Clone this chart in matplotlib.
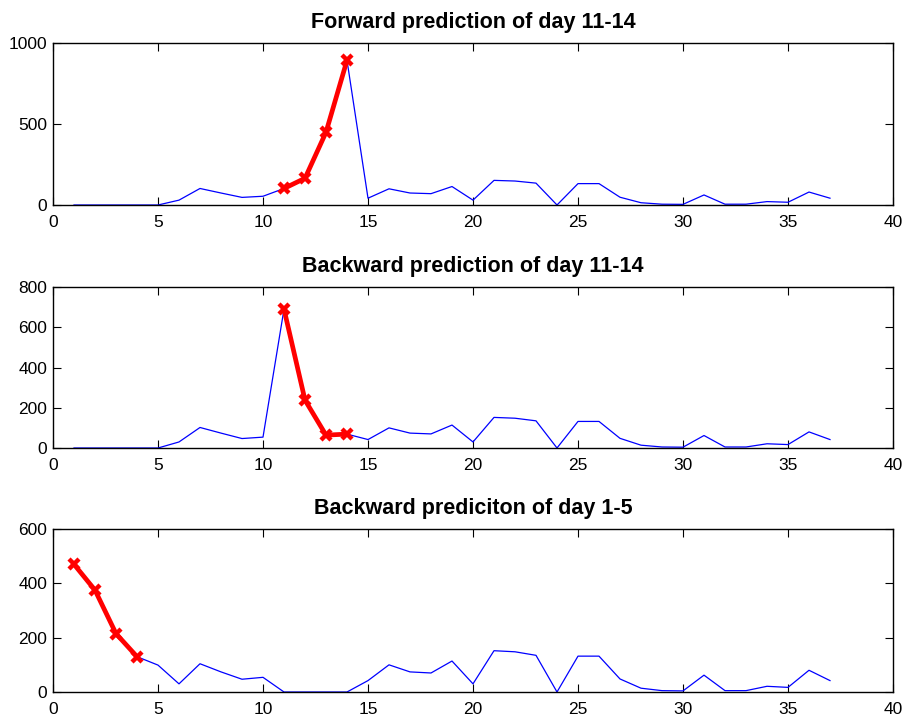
import matplotlib
matplotlib.use("Agg")
import matplotlib.pyplot as plt
import numpy as np

plt.rcParams['font.family'] = ['Liberation Sans', 'DejaVu Sans']

days = list(range(1, 38))
# observed series for days 15-37 (shared by all panels)
tail = [42, 100, 74, 70, 114, 30, 152, 148, 135, 0, 132, 132, 48, 14, 5, 4, 62, 5, 5, 21, 17, 80, 42]
mid = [0, 0, 0, 0, 0, 30, 102, 74, 47, 54]   # days 1-10 in panels 1-2

fwd_days = [11, 12, 13, 14]
fwd_vals = [102, 165, 449, 893]
bwd_days = [11, 12, 13, 14]
bwd_vals = [690, 238, 64, 69]
bwd2_days = [1, 2, 3, 4]
bwd2_vals = [470, 375, 215, 130]

series1 = mid + fwd_vals + tail
series2 = mid + bwd_vals + tail
series3 = bwd2_vals + [99, 30, 104, 74, 47, 54] + [0, 0, 0, 0] + tail

titles = ["Forward prediction of day 11-14",
          "Backward prediction of day 11-14",
          "Backward prediciton of day 1-5"]
yticks = [[0, 500, 1000], [0, 200, 400, 600, 800], [0, 200, 400, 600]]
xticks = [0, 5, 10, 15, 20, 25, 30, 35, 40]

fig = plt.figure(figsize=(9.13, 7.19), dpi=100)
W, H = 913, 719
boxes = [(53, 43, 205), (53, 287, 448), (53, 529, 692)]
data = [(series1, fwd_days, fwd_vals), (series2, bwd_days, bwd_vals), (series3, bwd2_days, bwd2_vals)]

for i, ((l, t, b), (ser, rd, rv)) in enumerate(zip(boxes, data)):
    ax = fig.add_axes([l / W, 1 - b / H, (893 - l) / W, (b - t) / H])
    ax.plot(days, ser, color=(0, 0, 1), lw=0.9)
    ax.plot(rd, rv, color=(1, 0, 0), lw=3.4, marker='x', markersize=7.5, mew=3.2)
    ax.set_xlim(0, 40)
    ax.set_ylim(0, yticks[i][-1])
    ax.set_xticks(xticks)
    ax.set_yticks(yticks[i])
    ax.tick_params(direction='in', top=True, right=True, labelsize=12.5, length=6, width=0.8)
    ax.tick_params(axis='x', pad=7)
    ax.tick_params(axis='y', pad=4)
    for s in ax.spines.values():
        s.set_linewidth(1.0)
    ax.set_title(titles[i], fontsize=15.5, fontweight='bold', pad=11)

fig.savefig("out.png", dpi=100)
